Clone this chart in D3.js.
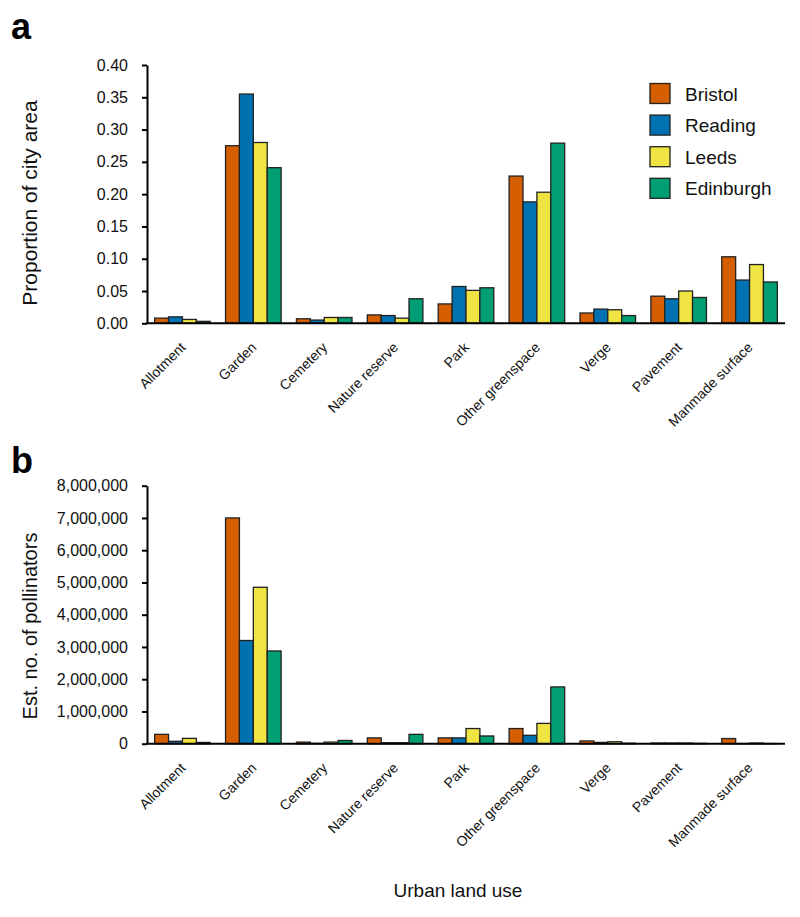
<!DOCTYPE html>
<html>
<head>
<meta charset="utf-8">
<script src="https://cdn.jsdelivr.net/npm/d3@7"></script>
<style>
  body { margin: 0; background: #fff; }
  svg { display: block; font-family: "Liberation Sans", Arial, Helvetica, sans-serif; }
</style>
</head>
<body>
<svg id="chart" width="800" height="917"></svg>
<script>
// ---- data ----
const categories = ["Allotment", "Garden", "Cemetery", "Nature reserve", "Park",
                    "Other greenspace", "Verge", "Pavement", "Manmade surface"];
const cities = ["Bristol", "Reading", "Leeds", "Edinburgh"];
const cityColors = ["#D55E00", "#0072B2", "#F0E442", "#009E73"];

// Panel a: proportion of city area
const areaBristol   = [0.008, 0.275, 0.007, 0.013, 0.030, 0.228, 0.016, 0.042, 0.103];
const areaReading   = [0.010, 0.355, 0.005, 0.012, 0.057, 0.188, 0.022, 0.038, 0.067];
const areaLeeds     = [0.006, 0.280, 0.009, 0.008, 0.051, 0.203, 0.021, 0.050, 0.091];
const areaEdinburgh = [0.003, 0.241, 0.009, 0.038, 0.055, 0.279, 0.012, 0.040, 0.064];

// Panel b: estimated number of pollinators
const pollBristol   = [290000, 7000000, 50000, 180000, 180000, 470000, 85000, 20000, 160000];
const pollReading   = [75000, 3200000, 10000, 30000, 180000, 260000, 40000, 20000, 5000];
const pollLeeds     = [165000, 4850000, 50000, 30000, 470000, 630000, 60000, 20000, 20000];
const pollEdinburgh = [40000, 2875000, 100000, 290000, 240000, 1760000, 15000, 10000, 5000];

const areaTicks = [0, 0.05, 0.10, 0.15, 0.20, 0.25, 0.30, 0.35, 0.40];
const pollTicks = [0, 1e6, 2e6, 3e6, 4e6, 5e6, 6e6, 7e6, 8e6];

// ---- layout ----
const svg = d3.select("#chart");
const left = 147, right = 785;

const x0 = d3.scaleBand().domain(categories).range([left, right])
  .paddingInner(0.216).paddingOuter(0.108);
const x1 = d3.scaleBand().domain(cities).range([0, x0.bandwidth()]);
const color = d3.scaleOrdinal().domain(cities).range(cityColors);

function panel(opts) {
  const { series, yDomain, yTop, yBottom, ticks, fmt, title, titleSize, letter, letterY, titleCenter } = opts;
  const y = d3.scaleLinear().domain(yDomain).range([yBottom, yTop]);
  const g = svg.append("g");

  const rows = categories.map((c, i) => ({ cat: c, vals: cities.map((city, j) => ({ city, v: series[j][i] })) }));

  g.selectAll("g.grp").data(rows).join("g")
    .attr("class", "grp")
    .attr("transform", d => `translate(${x0(d.cat)},0)`)
    .selectAll("rect").data(d => d.vals).join("rect")
      .attr("x", d => x1(d.city))
      .attr("y", d => y(d.v))
      .attr("width", x1.bandwidth())
      .attr("height", d => y(0) - y(d.v))
      .attr("fill", d => color(d.city))
      .attr("stroke", "#222")
      .attr("stroke-width", 1.3);

  // y axis
  const ya = g.append("g").attr("transform", `translate(${left},0)`)
    .call(d3.axisLeft(y).tickValues(ticks).tickFormat(fmt).tickSize(5).tickSizeOuter(0).tickPadding(14));
  ya.select(".domain").attr("stroke", "#000").attr("stroke-width", 2);
  ya.selectAll(".tick line").attr("stroke", "#000").attr("stroke-width", 2);
  ya.selectAll(".tick text").attr("font-size", 16).attr("fill", "#111")
    .attr("font-family", "Liberation Sans, Arial, sans-serif");

  // x axis baseline
  g.append("line").attr("x1", left - 1).attr("x2", right).attr("y1", y(0)).attr("y2", y(0))
    .attr("stroke", "#000").attr("stroke-width", 2);

  // category labels
  g.selectAll("text.cat").data(categories).join("text")
    .attr("class", "cat")
    .attr("transform", d => `translate(${x0(d) + x0.bandwidth() / 2 + 4},${y(0) + 25}) rotate(-45)`)
    .attr("text-anchor", "end")
    .attr("font-size", 14)
    .attr("fill", "#111")
    .text(d => d);

  // y title
  g.append("text")
    .attr("transform", `translate(37,${titleCenter}) rotate(-90)`)
    .attr("text-anchor", "middle")
    .attr("font-size", titleSize)
    .attr("fill", "#111")
    .text(title);

  // panel letter
  svg.append("text").attr("x", 11).attr("y", letterY)
    .attr("font-size", 36).attr("font-weight", "bold").attr("fill", "#000")
    .text(letter);
}

panel({
  series: [areaBristol, areaReading, areaLeeds, areaEdinburgh],
  yDomain: [0, 0.4], yTop: 65, yBottom: 323.3,
  ticks: areaTicks, fmt: d3.format(".2f"),
  title: "Proportion of city area", titleSize: 21, letter: "a", letterY: 39, titleCenter: 203
});

panel({
  series: [pollBristol, pollReading, pollLeeds, pollEdinburgh],
  yDomain: [0, 8e6], yTop: 485.7, yBottom: 743.7,
  ticks: pollTicks, fmt: d3.format(","),
  title: "Est. no. of pollinators", titleSize: 20, letter: "b", letterY: 473, titleCenter: 626
});

// legend
const leg = svg.append("g").attr("transform", "translate(650,83.5)");
const li = leg.selectAll("g").data(cities).join("g")
  .attr("transform", (d, i) => `translate(0,${i * 31.6})`);
li.append("rect").attr("width", 20).attr("height", 20)
  .attr("fill", d => color(d)).attr("stroke", "#222").attr("stroke-width", 1.3);
li.append("text").attr("x", 35).attr("y", 17).attr("font-size", 19).attr("fill", "#111")
  .text(d => d);

// x title
svg.append("text").attr("x", 458).attr("y", 897).attr("text-anchor", "middle")
  .attr("font-size", 19).attr("fill", "#111").text("Urban land use");
</script>
</body>
</html>
